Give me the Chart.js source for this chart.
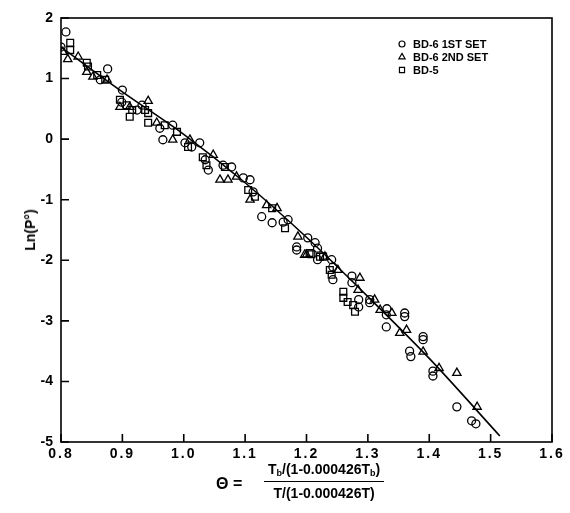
<!DOCTYPE html>
<html><head><meta charset="utf-8">
<script src="https://cdn.jsdelivr.net/npm/chart.js@4.4.1/dist/chart.umd.min.js"></script>
<style>
html,body{margin:0;padding:0;background:#fff;}
#wrap{position:relative;width:570px;height:513px;overflow:hidden;}
canvas{position:absolute;left:0;top:0;}
.tx{position:absolute;font-family:"Liberation Sans",Arial,sans-serif;font-weight:bold;color:#000;white-space:nowrap;}
sub{font-size:9px;vertical-align:-2px;line-height:0;}
</style></head><body>
<div id="wrap">
<canvas id="c" width="570" height="513"></canvas>
<div class="tx" style="left:216px;top:475px;font-size:16px;">Θ =</div>
<div class="tx" style="left:264px;top:462px;font-size:14px;text-align:center;line-height:15px;">
  <div style="padding:0 4px 4px;border-bottom:1.6px solid #000;">T<sub>b</sub>/(1-0.000426T<sub>b</sub>)</div>
  <div style="padding-top:4px;">T/(1-0.000426T)</div>
</div>
<div class="tx" style="left:30px;top:230px;font-size:14px;transform:translate(-50%,-50%) rotate(-90deg);">Ln(P°)</div>
</div>
<script>
// BD-6 1ST SET (circles)
const set1X = [0.808,0.800,0.876,0.864,0.900,0.899,0.924,0.932,0.961,0.982,0.966,1.002,1.026,1.013,1.035,1.040,1.064,1.078,1.097,1.108,1.113,1.127,1.144,1.162,1.170,1.184,1.184,1.202,1.214,1.218,1.218,1.241,1.243,1.243,1.274,1.274,1.285,1.285,1.303,1.303,1.331,1.330,1.330,1.360,1.360,1.390,1.390,1.368,1.370,1.406,1.406,1.445,1.469,1.476];
const set1Y = [1.77,1.52,1.16,0.98,0.81,0.61,0.48,0.56,0.18,0.23,-0.01,-0.06,-0.06,-0.13,-0.34,-0.51,-0.43,-0.46,-0.64,-0.67,-0.87,-1.28,-1.38,-1.37,-1.33,-1.78,-1.83,-1.63,-1.71,-1.80,-1.99,-1.99,-2.11,-2.32,-2.26,-2.37,-2.65,-2.77,-2.65,-2.70,-2.80,-2.90,-3.10,-2.87,-2.93,-3.26,-3.31,-3.50,-3.59,-3.83,-3.91,-4.42,-4.65,-4.70];
// BD-6 2ND SET (triangles)
const set2X = [0.803,0.811,0.828,0.842,0.852,0.875,0.896,0.912,0.942,0.956,0.982,1.010,1.048,1.059,1.072,1.086,1.108,1.135,1.152,1.186,1.197,1.200,1.230,1.251,1.287,1.284,1.311,1.320,1.339,1.352,1.363,1.390,1.416,1.445,1.478];
const set2Y = [1.44,1.32,1.36,1.11,1.03,0.98,0.53,0.53,0.63,0.27,-0.01,-0.01,-0.26,-0.67,-0.67,-0.62,-1.00,-1.09,-1.14,-1.61,-1.91,-1.91,-1.94,-2.16,-2.29,-2.49,-2.65,-2.82,-2.87,-3.20,-3.15,-3.51,-3.78,-3.86,-4.42];
// BD-5 (squares)
const set3X = [0.815,0.815,0.842,0.844,0.859,0.872,0.896,0.907,0.912,0.916,0.937,0.942,0.942,0.969,0.989,1.007,1.031,1.037,1.067,1.105,1.116,1.144,1.165,1.205,1.208,1.222,1.227,1.238,1.241,1.260,1.260,1.267,1.276,1.279];
const set3Y = [1.59,1.47,1.26,1.20,1.06,0.98,0.65,0.56,0.37,0.48,0.48,0.43,0.27,0.23,0.12,-0.13,-0.30,-0.43,-0.46,-0.84,-0.95,-1.14,-1.47,-1.88,-1.90,-1.94,-1.94,-2.16,-2.24,-2.52,-2.62,-2.69,-2.74,-2.85];
// fitted curve
const fitX = [0.80,0.90,1.00,1.10,1.20,1.30,1.40,1.515];
const fitY = [1.52,0.78,0.08,-0.72,-1.62,-2.60,-3.62,-4.90];

const seriesLabels = ['BD-6 1ST SET','BD-6 2ND SET','BD-5'];
const xTicks = [0.8,0.9,1.0,1.1,1.2,1.3,1.4,1.5,1.6];
const yTicks = [-5,-4,-3,-2,-1,0,1,2];

const pts = (xs, ys) => xs.map((x, i) => ({x, y: ys[i]}));

const frame = {
  id: 'frame',
  beforeDraw(chart) {
    const s = chart.scales.x;
    if (!s._ls) {
      const orig = s.drawLabels.bind(s);
      s.drawLabels = function (area) {
        const c = this.ctx; c.save(); c.letterSpacing = '2px'; orig(area); c.restore();
      };
      s._ls = true;
    }
  },
  afterDraw(chart) {
    const {ctx, chartArea: a, scales: {x, y}} = chart;
    ctx.save();
    ctx.strokeStyle = '#000';
    ctx.lineWidth = 1.6;
    ctx.strokeRect(a.left, a.top, a.right - a.left, a.bottom - a.top);
    ctx.beginPath();
    x.ticks.forEach(t => { const p = x.getPixelForValue(t.value); ctx.moveTo(p, a.bottom); ctx.lineTo(p, a.bottom - 8); });
    y.ticks.forEach(t => { const p = y.getPixelForValue(t.value); ctx.moveTo(a.left, p); ctx.lineTo(a.left + 8, p); });
    ctx.stroke();
    // legend
    ctx.font = 'bold 11px "Liberation Sans", Arial, sans-serif';
    ctx.textBaseline = 'middle';
    chart.data.datasets.forEach((ds, i) => {
      if (!ds.label) return;
      const ly = 44 + i * 13, lx = 402;
      ctx.fillStyle = 'rgba(0,0,0,0)';
      ctx.strokeStyle = '#000';
      ctx.lineWidth = 1.2;
      Chart.helpers.drawPoint(ctx, {pointStyle: ds.pointStyle, radius: ds.pointRadius * 0.75, borderWidth: 1.2}, lx, ly);
      ctx.fillStyle = '#000';
      ctx.fillText(ds.label, 413, ly + 0.5);
    });
    ctx.restore();
  }
};

const common = {showLine: false, borderColor: '#000', backgroundColor: 'rgba(0,0,0,0)', borderWidth: 1.3};

new Chart(document.getElementById('c'), {
  type: 'scatter',
  data: {
    datasets: [
      {...common, label: seriesLabels[0], data: pts(set1X, set1Y), pointStyle: 'circle', pointRadius: 4},
      {...common, label: seriesLabels[1], data: pts(set2X, set2Y), pointStyle: 'triangle', pointRadius: 4.8},
      {...common, label: seriesLabels[2], data: pts(set3X, set3Y), pointStyle: 'rect', pointRadius: 4.8},
      {type: 'line', data: pts(fitX, fitY), borderColor: '#000', borderWidth: 1.6, pointRadius: 0, showLine: true, fill: false, cubicInterpolationMode: 'monotone'}
    ]
  },
  options: {
    responsive: false, animation: false, devicePixelRatio: 1,
    layout: {padding: {left: 0, top: 18, right: 18, bottom: 0}},
    plugins: {legend: {display: false}, tooltip: {enabled: false}},
    scales: {
      x: {
        type: 'linear', min: 0.8, max: 1.6,
        afterBuildTicks: s => { s.ticks = xTicks.map(v => ({value: v})); },
        afterFit: s => { s.height = 71; },
        grid: {display: true, drawOnChartArea: false, drawTicks: false},
        border: {display: false},
        ticks: {color: '#000', padding: 4, font: {family: '"Liberation Sans", Arial, sans-serif', size: 14, weight: 'bold'}, callback: v => v.toFixed(1), maxRotation: 0}
      },
      y: {
        type: 'linear', min: -5, max: 2,
        afterBuildTicks: s => { s.ticks = yTicks.map(v => ({value: v})); },
        afterFit: s => { s.width = 61; },
        grid: {display: true, drawOnChartArea: false, drawTicks: false},
        border: {display: false},
        ticks: {color: '#000', padding: 8, font: {family: '"Liberation Sans", Arial, sans-serif', size: 14, weight: 'bold'}, callback: v => String(v)}
      }
    }
  },
  plugins: [frame]
});
</script>
</body></html>
